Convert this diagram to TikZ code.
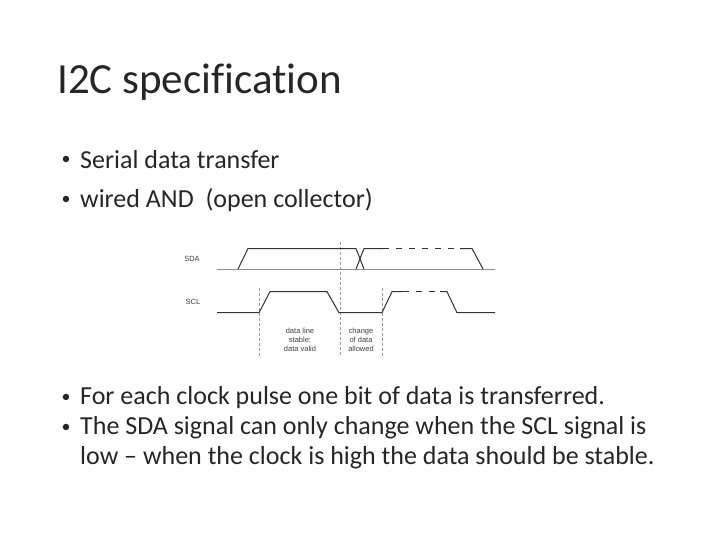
\documentclass[tikz,border=0pt]{standalone}
\usepackage{fontspec}
\setmainfont[Ligatures=NoCommon]{Carlito}
\setsansfont{Liberation Sans}
\begin{document}
\begin{tikzpicture}[x=1pt,y=-1pt,
  sig/.style={line width=1pt,black!80},
  base/.style={line width=0.8pt,black!45},
  guide/.style={dashed,black!40,line width=0.4pt,dash pattern=on 3pt off 2pt},
  lbl/.style={font=\sffamily\fontsize{7.5}{9}\selectfont,text=black!75,align=center},
  dot/.style={anchor=center,font=\fontsize{18}{20}\selectfont,text=black!85,inner sep=0},
  bul/.style={anchor=west,font=\fontsize{26}{30}\selectfont,text=black!85,align=left,inner sep=0}]
\useasboundingbox (0,0) rectangle (720,540);
\node[anchor=base west,inner sep=0,font=\fontsize{43}{46}\selectfont,text=black!85] (title) at (57,94) {I2C specification};
\node[dot] (d1) at (66,160) {•};
\node[bul] (b1) at (80,160) {Serial data transfer};
\node[dot] (d2) at (66,200) {•};
\node[bul] (b2) at (80,200) {wired AND\ \ (open collector)};
\node[dot] (d3) at (66,398) {•};
\node[bul] (b3) at (80,398) {For each clock pulse one bit of data is transferred.};
\node[dot] (d4) at (66,428) {•};
\node[bul] (b4) at (80,428) {The SDA signal can only change when the SCL signal is};
\node[bul] (b5) at (80,458) {low -- when the clock is high the data should be stable.};
% guides
\draw[guide] (259,288) -- (259,356);
\draw[guide] (340,242) -- (340,356);
\draw[guide] (382,288) -- (382,356);
% SDA
\draw[base] (217,269) -- (495,269);
\draw[sig] (238,269) -- (248,248.5) -- (356,248.5) -- (364,269);
\draw[sig] (356,269) -- (364,248.5) -- (383,248.5);
\draw[sig,dashed,dash pattern=on 6pt off 7pt] (383,248.5) -- (472,248.5);
\draw[sig] (460,248.5) -- (472,248.5) -- (483,269);
% SCL
\draw[sig] (217,312.7) -- (259,312.7) -- (270,291.7) -- (327,291.7) -- (339,312.7) -- (382,312.7) -- (392,291.7) -- (403,291.7);
\draw[sig,dashed,dash pattern=on 6pt off 7pt] (403,291.7) -- (447,291.7);
\draw[sig] (440,291.7) -- (447,291.7) -- (457,312.7) -- (495,312.7);
\node[lbl] (sda) at (192,259) {SDA};
\node[lbl] (scl) at (193,302) {SCL};
\node[lbl] (l1) at (300,340) {data line\\stable;\\data valid};
\node[lbl] (l2) at (361,340) {change\\of data\\allowed};
\end{tikzpicture}
\end{document}
